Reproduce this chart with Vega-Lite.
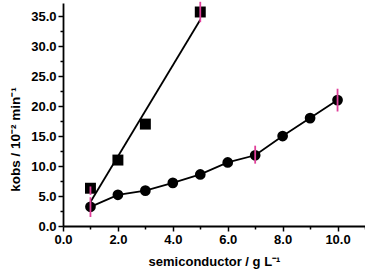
{
  "$schema": "https://vega.github.io/schema/vega-lite/v6.json",
  "width": 302,
  "height": 223,
  "autosize": {"type": "none"},
  "padding": {"left": 63, "top": 3, "right": 0, "bottom": 47},
  "background": "white",
  "config": {
    "view": {"stroke": null},
    "axis": {"labelFont": "Liberation Sans", "titleFont": "Liberation Sans", "labelFontWeight": "bold", "titleFontWeight": "bold", "labelColor": "black", "titleColor": "black", "domainColor": "black", "tickColor": "black", "grid": false}
  },
  "datasets": {
    "pts": [
      {"series": "circle", "x": 1, "y": 3.2, "lo": 1.5, "hi": 4.8},
      {"series": "circle", "x": 2, "y": 5.2},
      {"series": "circle", "x": 3, "y": 5.9},
      {"series": "circle", "x": 4, "y": 7.2},
      {"series": "circle", "x": 5, "y": 8.6},
      {"series": "circle", "x": 6, "y": 10.6},
      {"series": "circle", "x": 7, "y": 11.8, "lo": 10.4, "hi": 13.4},
      {"series": "circle", "x": 8, "y": 15.0},
      {"series": "circle", "x": 9, "y": 18.0},
      {"series": "circle", "x": 10, "y": 21.0, "lo": 19.1, "hi": 22.9},
      {"series": "square", "x": 1, "y": 6.3, "lo": 5.2, "hi": 6.6},
      {"series": "square", "x": 2, "y": 11.0},
      {"series": "square", "x": 3, "y": 17.0},
      {"series": "square", "x": 5, "y": 35.7, "lo": 34.0, "hi": 37.4}
    ],
    "fit": [
      {"x": 1, "y": 4.0},
      {"x": 5, "y": 34.4}
    ]
  },
  "resolve": {"axis": {"x": "independent", "y": "independent"}},
  "layer": [
    {
      "data": {"name": "fit"},
      "mark": {"type": "line", "color": "black", "strokeWidth": 1.8},
      "encoding": {
        "x": {"field": "x", "type": "quantitative", "scale": {"domain": [0, 11], "nice": false},
          "axis": {"orient": "bottom", "values": [0, 2, 4, 6, 8, 10], "format": ".1f", "labelFontSize": 13, "titleFontSize": 13, "title": "semiconductor / g L⁻¹", "domainWidth": 1.8, "tickWidth": 1.5, "tickSize": 5, "labelPadding": 2, "titlePadding": 9, "labelFlush": false}},
        "y": {"field": "y", "type": "quantitative", "scale": {"domain": [0, 37.2], "nice": false, "zero": false},
          "axis": {"orient": "left", "values": [0, 5, 10, 15, 20, 25, 30, 35], "format": ".1f", "labelFontSize": 13, "titleFontSize": 13.5, "title": "kobs / 10⁻² min⁻¹", "titleY": 136, "domainWidth": 1.8, "tickWidth": 1.5, "tickSize": 5, "labelPadding": 2, "titlePadding": 8, "labelFlush": false}}
      }
    },
    {
      "data": {"name": "pts"},
      "transform": [{"filter": "datum.series === 'circle'"}],
      "mark": {"type": "line", "color": "black", "strokeWidth": 1.8},
      "encoding": {
        "x": {"field": "x", "type": "quantitative", "axis": null},
        "y": {"field": "y", "type": "quantitative", "axis": null}
      }
    },
    {
      "data": {"name": "pts"},
      "mark": {"type": "point", "filled": true, "opacity": 1, "color": "black"},
      "encoding": {
        "x": {"field": "x", "type": "quantitative", "axis": null},
        "y": {"field": "y", "type": "quantitative", "axis": null},
        "shape": {"field": "series", "type": "nominal", "scale": {"domain": ["circle", "square"], "range": ["circle", "square"]}, "legend": null},
        "size": {"field": "series", "type": "nominal", "scale": {"domain": ["circle", "square"], "range": [115, 120]}, "legend": null}
      }
    },
    {
      "data": {"name": "pts"},
      "transform": [{"filter": "isValid(datum.lo)"}],
      "mark": {"type": "rule", "color": "#e0409a", "strokeWidth": 1.8},
      "encoding": {
        "x": {"field": "x", "type": "quantitative", "axis": null},
        "y": {"field": "lo", "type": "quantitative", "axis": null},
        "y2": {"field": "hi"}
      }
    },
    {
      "data": {"name": "pts"},
      "mark": {"type": "point", "opacity": 0},
      "encoding": {
        "x": {"field": "x", "type": "quantitative",
          "axis": {"orient": "bottom", "values": [1, 3, 5, 7, 9, 11], "labels": false, "domain": false, "tickSize": 3, "tickWidth": 1.5, "title": null}},
        "y": {"field": "y", "type": "quantitative",
          "axis": {"orient": "left", "values": [2.5, 7.5, 12.5, 17.5, 22.5, 27.5, 32.5], "labels": false, "domain": false, "tickSize": 3, "tickWidth": 1.5, "title": null}}
      }
    }
  ]
}
